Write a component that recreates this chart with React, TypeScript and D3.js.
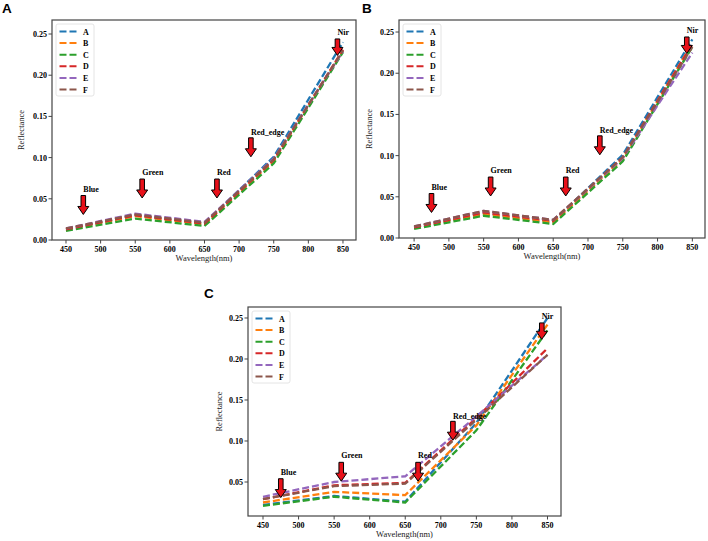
import React from "react";
import * as d3 from "d3";

const wavelengths = [450, 550, 650, 750, 850];
const seriesNames = ["A", "B", "C", "D", "E", "F"];
const seriesColors = ["#1f77b4", "#ff7f0e", "#2ca02c", "#d62728", "#9467bd", "#8c564b"];

const panelAValues = [
  [0.013, 0.030, 0.020, 0.101, 0.240],
  [0.013, 0.029, 0.019, 0.096, 0.230],
  [0.011, 0.026, 0.017, 0.093, 0.228],
  [0.013, 0.030, 0.020, 0.097, 0.231],
  [0.014, 0.032, 0.022, 0.099, 0.229],
  [0.014, 0.031, 0.021, 0.098, 0.230],
];
const panelBValues = [
  [0.013, 0.030, 0.020, 0.101, 0.241],
  [0.013, 0.029, 0.019, 0.096, 0.236],
  [0.011, 0.027, 0.017, 0.093, 0.232],
  [0.013, 0.031, 0.021, 0.098, 0.235],
  [0.014, 0.033, 0.022, 0.097, 0.225],
  [0.014, 0.033, 0.022, 0.098, 0.232],
];
const panelCValues = [
  [0.022, 0.033, 0.026, 0.122, 0.250],
  [0.025, 0.038, 0.034, 0.119, 0.242],
  [0.021, 0.032, 0.025, 0.113, 0.235],
  [0.029, 0.046, 0.049, 0.128, 0.213],
  [0.032, 0.050, 0.057, 0.130, 0.205],
  [0.029, 0.045, 0.048, 0.126, 0.205],
];

const bandNames = ["Blue", "Green", "Red", "Red_edge", "Nir"];
const bandX = [475, 560, 668, 717, 842];
const bandTip = [0.031, 0.051, 0.051, 0.101, 0.224];
const bandTail = [0.054, 0.074, 0.074, 0.124, 0.244];
const bandText = [0.058, 0.079, 0.079, 0.127, 0.249];

const xTicks = [450, 500, 550, 600, 650, 700, 750, 800, 850];
const yTicksAB = [0.0, 0.05, 0.1, 0.15, 0.2, 0.25];
const yTicksC = [0.05, 0.1, 0.15, 0.2, 0.25];

const SERIF = "'Liberation Serif', 'DejaVu Serif', serif";
const SANS = "'Liberation Sans', Arial, sans-serif";

type PanelProps = {
  letter: string;
  letterX: number;
  letterY: number;
  left: number;
  right: number;
  top: number;
  bottom: number;
  xDom: [number, number];
  yDom: [number, number];
  yTicks: number[];
  values: number[][];
  ylabelX: number;
};

function Panel(p: PanelProps) {
  const x = d3.scaleLinear().domain(p.xDom).range([p.left, p.right]);
  const y = d3.scaleLinear().domain(p.yDom).range([p.bottom, p.top]);
  const line = d3
    .line<number>()
    .x((_, i) => x(wavelengths[i]))
    .y((d) => y(d));
  const frame = "#444";
  const midX = (p.left + p.right) / 2;
  const midY = (p.top + p.bottom) / 2;
  const legX = p.left + 4;
  const legY = p.top + 4;
  return (
    <g>
      <text x={p.letterX} y={p.letterY} fontFamily={SANS} fontWeight="bold" fontSize={13.5} fill="#000">
        {p.letter}
      </text>
      <defs>
        <clipPath id={"clip" + p.letter}>
          <rect x={p.left} y={p.top} width={p.right - p.left} height={p.bottom - p.top} />
        </clipPath>
      </defs>
      <g clipPath={`url(#clip${p.letter})`}>
        {p.values.map((vals, i) => (
          <path
            key={i}
            d={line(vals) || ""}
            fill="none"
            stroke={seriesColors[i]}
            strokeWidth={2.3}
            strokeDasharray="7,3"
          />
        ))}
      </g>
      {bandNames.map((b, i) => {
        const cx = x(bandX[i]);
        const tip = y(bandTip[i]);
        const tail = y(bandTail[i]);
        const headLen = 8;
        const sw = 2.3;
        const hw = 5.5;
        const d = `M${cx - sw},${tail} L${cx + sw},${tail} L${cx + sw},${tip - headLen} L${cx + hw},${tip - headLen} L${cx},${tip} L${cx - hw},${tip - headLen} L${cx - sw},${tip - headLen} Z`;
        return (
          <g key={b}>
            <path d={d} fill="#e8111a" stroke="#000" strokeWidth={1} strokeLinejoin="miter" />
            <text x={cx} y={y(bandText[i])} fontFamily={SERIF} fontWeight="bold" fontSize={8} fill="#000">
              {b}
            </text>
          </g>
        );
      })}
      <rect
        x={p.left}
        y={p.top}
        width={p.right - p.left}
        height={p.bottom - p.top}
        fill="none"
        stroke={frame}
        strokeWidth={1.2}
      />
      {xTicks.map((t) => (
        <g key={t}>
          <line x1={x(t)} x2={x(t)} y1={p.bottom} y2={p.bottom + 3.5} stroke={frame} strokeWidth={1} />
          <text
            x={x(t)}
            y={p.bottom + 12}
            textAnchor="middle"
            fontFamily={SERIF}
            fontWeight="bold"
            fontSize={8}
            fill="#000"
          >
            {t}
          </text>
        </g>
      ))}
      {p.yTicks.map((t) => (
        <g key={t}>
          <line x1={p.left - 3.5} x2={p.left} y1={y(t)} y2={y(t)} stroke={frame} strokeWidth={1} />
          <text
            x={p.left - 5}
            y={y(t) + 3}
            textAnchor="end"
            fontFamily={SERIF}
            fontWeight="bold"
            fontSize={8}
            fill="#000"
          >
            {t.toFixed(2)}
          </text>
        </g>
      ))}
      <text
        x={midX}
        y={p.bottom + 21}
        textAnchor="middle"
        fontFamily={SERIF}
        fontSize={8.5}
        fill="#222"
      >
        Wavelength(nm)
      </text>
      <text
        transform={`translate(${p.ylabelX},${midY}) rotate(-90)`}
        textAnchor="middle"
        dominantBaseline="middle"
        fontFamily={SERIF}
        fontSize={8.5}
        fill="#222"
      >
        Reflectance
      </text>
      <rect
        x={legX}
        y={legY}
        width={38}
        height={72}
        fill="#fff"
        fillOpacity={0.8}
        stroke="#ddd"
        strokeWidth={0.8}
        rx={2}
      />
      {seriesNames.map((n, i) => {
        const ly = legY + 7.5 + i * 11.6;
        return (
          <g key={n}>
            <line
              x1={legX + 3.5}
              x2={legX + 20.5}
              y1={ly}
              y2={ly}
              stroke={seriesColors[i]}
              strokeWidth={2}
              strokeDasharray="7,3"
            />
            <text x={legX + 27} y={ly + 3} fontFamily={SERIF} fontWeight="bold" fontSize={8} fill="#000">
              {n}
            </text>
          </g>
        );
      })}
    </g>
  );
}

export default function App() {
  return (
    <svg
      width={708}
      height={541}
      style={{ position: "absolute", left: 0, top: 0, background: "#fff" }}
    >
      <rect x={0} y={0} width={708} height={541} fill="#fff" />
      <Panel
        letter="A"
        letterX={2}
        letterY={13}
        left={52}
        right={356}
        top={20}
        bottom={240}
        xDom={[429.8, 868.8]}
        yDom={[0, 0.267]}
        yTicks={yTicksAB}
        values={panelAValues}
        ylabelX={22}
      />
      <Panel
        letter="B"
        letterX={362}
        letterY={13}
        left={399}
        right={705}
        top={20}
        bottom={238}
        xDom={[428.3, 868.2]}
        yDom={[0, 0.2646]}
        yTicks={yTicksAB}
        values={panelBValues}
        ylabelX={370}
      />
      <Panel
        letter="C"
        letterX={204}
        letterY={298}
        left={248}
        right={561}
        top={307}
        bottom={516}
        xDom={[428.9, 869.0]}
        yDom={[0.00854, 0.2634]}
        yTicks={yTicksC}
        values={panelCValues}
        ylabelX={220}
      />
    </svg>
  );
}
